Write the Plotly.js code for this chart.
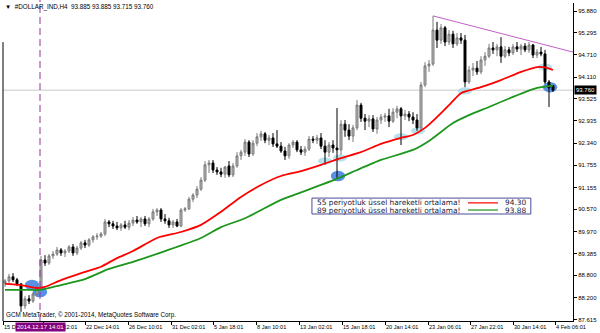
<!DOCTYPE html>
<html><head><meta charset="utf-8">
<script src="https://cdn.plot.ly/plotly-3.0.1.min.js"></script>
<style>html,body{margin:0;padding:0;background:#fff}#c{width:600px;height:333px}</style>
</head><body><div id="c"></div>
<script>
const symbol = "#DOLLAR_IND,H4";
const copyright = "GCM MetaTrader, \u00a9 2001-2014, MetaQuotes Software Corp.";

const openP = [
88.59,88.65,88.76,88.68,88.57,87.98,88.17,88.11,88.30,88.46,
89.21,89.13,89.32,89.37,89.48,89.40,89.45,89.56,89.40,89.53,
89.67,89.61,89.75,89.83,89.85,89.91,90.23,90.18,90.12,90.07,
90.15,90.09,90.20,90.28,90.23,90.31,90.18,90.31,90.50,90.55,
90.31,90.26,90.15,90.23,90.12,90.55,90.58,90.84,90.95,91.11,
91.35,91.76,91.81,91.62,91.57,91.51,91.73,91.49,91.73,92.00,
92.10,92.37,92.05,92.34,92.51,92.59,92.42,92.48,92.32,92.26,
92.13,92.00,92.29,92.37,92.16,92.10,92.18,92.45,92.42,92.48,
92.26,92.10,92.29,92.21,92.16,92.85,92.69,92.53,92.75,93.36,
93.01,92.93,92.99,92.72,92.96,93.04,93.07,92.93,93.17,93.26,
93.07,93.12,93.04,92.96,92.75,93.90,94.41,94.46,95.37,95.10,
95.43,95.05,95.26,95.00,95.16,95.10,93.98,94.30,94.35,94.25,
94.57,94.67,94.89,94.84,94.92,94.67,94.84,94.76,94.92,94.86,
94.94,94.84,94.97,94.70,94.78,94.73,93.98,93.885];
const highP = [
88.70,88.84,88.86,88.73,88.59,88.25,88.27,88.35,88.54,89.32,
89.34,89.37,89.45,89.56,89.53,89.50,89.61,89.64,89.59,89.72,
89.75,89.80,89.88,89.93,89.96,90.31,90.28,90.26,90.23,90.20,
90.26,90.28,90.36,90.39,90.36,90.39,90.36,90.58,90.60,90.60,
90.44,90.34,90.28,90.31,90.60,90.63,90.90,91.00,91.19,91.43,
91.86,91.89,91.89,91.70,91.68,91.73,91.86,91.81,92.10,92.16,
92.45,92.42,92.42,92.61,92.67,92.64,92.56,92.61,92.69,92.37,
92.24,92.34,92.42,92.42,92.26,92.26,92.53,92.53,92.56,92.61,
92.42,92.37,92.42,93.28,92.96,92.96,92.85,92.83,93.50,93.42,
93.12,93.09,93.09,93.04,93.12,93.15,93.26,93.28,93.34,93.31,
93.23,93.20,93.17,93.12,93.98,94.51,94.57,95.75,95.59,95.53,
95.48,95.37,95.35,95.29,95.29,95.24,94.41,94.49,94.54,94.67,
94.78,95.00,95.05,95.00,95.18,94.94,94.92,95.00,95.05,95.00,
95.02,95.05,95.00,94.86,94.92,94.84,94.03,93.885];
const lowP = [
88.49,88.59,88.62,88.51,87.82,87.90,88.03,88.06,88.22,88.41,
89.05,89.08,89.24,89.32,89.32,89.29,89.40,89.32,89.34,89.48,
89.53,89.56,89.67,89.75,89.80,89.85,90.09,90.04,90.01,89.99,
90.04,90.01,90.12,90.18,90.09,90.12,90.09,90.26,90.39,90.23,
90.18,90.07,90.07,90.09,90.09,90.50,90.55,90.76,90.87,91.06,
91.30,91.54,91.54,91.49,91.43,91.41,91.43,91.43,91.68,91.89,
92.00,91.97,92.00,92.26,92.40,92.34,92.29,92.24,92.21,92.08,
91.89,91.92,92.21,92.10,92.02,92.00,92.13,92.34,92.32,92.18,
91.76,91.97,92.08,91.41,92.02,92.51,92.42,92.37,92.69,92.91,
92.69,92.77,92.64,92.59,92.85,92.91,92.77,92.88,93.01,92.29,
92.96,92.93,92.85,92.67,92.67,93.84,94.25,94.41,94.89,95.00,
94.94,94.97,94.89,94.94,95.00,93.84,93.93,94.14,94.17,94.19,
94.41,94.62,94.73,94.67,94.49,94.62,94.67,94.70,94.78,94.70,
94.78,94.76,94.62,94.62,94.67,93.93,93.31,93.715];
const closeP = [
88.65,88.76,88.68,88.57,87.98,88.17,88.11,88.30,88.46,89.21,
89.13,89.32,89.37,89.48,89.40,89.45,89.56,89.40,89.53,89.67,
89.61,89.75,89.83,89.85,89.91,90.23,90.18,90.12,90.07,90.15,
90.09,90.20,90.28,90.23,90.31,90.18,90.31,90.50,90.55,90.31,
90.26,90.15,90.23,90.12,90.55,90.58,90.84,90.95,91.11,91.35,
91.76,91.81,91.62,91.57,91.51,91.70,91.49,91.73,92.00,92.10,
92.37,92.05,92.34,92.51,92.59,92.42,92.48,92.32,92.26,92.13,
92.00,92.29,92.37,92.16,92.10,92.18,92.45,92.42,92.48,92.26,
92.10,92.29,92.21,92.16,92.85,92.69,92.53,92.75,93.36,93.01,
92.93,92.99,92.72,92.96,93.04,93.07,92.93,93.17,93.26,93.07,
93.12,93.04,92.96,92.75,93.90,94.41,94.46,95.37,95.10,95.43,
95.05,95.26,95.00,95.16,95.10,93.98,94.30,94.35,94.25,94.57,
94.67,94.89,94.84,94.92,94.67,94.84,94.76,94.92,94.86,94.94,
94.84,94.97,94.70,94.78,94.73,93.98,93.82,93.76];

const ema55Idx = [0,4,8,10,14,20,24,28,32,38,44,49,54,59,64,69,74,79,84,89,94,99,102,105,108,111,114,119,124,129,133,135,137];
const ema55Val = [88.57,88.54,88.46,88.49,88.67,88.89,89.03,89.26,89.45,89.80,89.96,90.15,90.50,90.90,91.22,91.46,91.59,91.76,91.94,92.10,92.32,92.48,92.56,92.75,93.04,93.36,93.68,93.84,94.03,94.25,94.38,94.37,94.30];
const ema89Idx = [0,5,9,14,20,26,32,40,49,54,60,69,73,77,84,88,94,102,106,112,116,121,127,133,136,137];
const ema89Val = [88.41,88.41,88.41,88.54,88.70,88.97,89.16,89.45,89.80,90.09,90.33,90.82,90.98,91.14,91.43,91.62,91.89,92.16,92.40,92.88,93.09,93.31,93.58,93.82,93.87,93.88];
const ema55Name = "55 periyotluk \u00fcssel hareketli ortalama!";
const ema89Name = "89 periyotluk \u00fcssel hareketli ortalama!";

const trendIdx = [107, 142];
const trendVal = [95.75, 94.78];

const cyanIdx = [80, 83.75, 99, 103.25, 115, 135];
const cyanVal = [91.86, 91.94, 92.51, 92.67, 93.74, 94.38];
const blueIdx = [6.75, 8.75, 83.25, 136.25];
const blueVal = [88.54, 88.35, 91.46, 93.84];

const eventBar = 8.75;
const eventLabel = "2014.12.17 14:01";

const xTickIdx = [-0.5, 9.5, 20, 30.75, 41.5, 52, 62.75, 73.5, 84.25, 95, 105.75, 116.25, 127, 137.5];
const xTickText = ["15 Dec 2014","17 Dec 22:01","22 Dec 14:01","26 Dec 10:01","31 Dec 02:01","5 Jan 18:01","8 Jan 10:01","13 Jan 02:01","15 Jan 18:01","20 Jan 14:01","23 Jan 06:01","27 Jan 22:01","30 Jan 14:01","4 Feb 06:01"];
const yTickVals = [95.880,95.295,94.710,94.110,93.525,92.935,92.340,91.755,91.155,90.570,89.970,89.385,88.800,88.200,87.615];

const FONT = "Liberation Sans, Arial, sans-serif";
const LFONT = "DejaVu Sans, Verdana, sans-serif";
const xs = closeP.map((_, i) => i);
const last = closeP.length - 1;
const nb = "\u00a0";

const traces = [
  {type:'scatter', mode:'lines', x:ema89Idx, y:ema89Val, line:{color:'#1c961c', width:1.8, shape:'spline', smoothing:0.6}, hoverinfo:'skip'},
  {type:'scatter', mode:'lines', x:ema55Idx, y:ema55Val, line:{color:'#ff0000', width:1.8, shape:'spline', smoothing:0.6}, hoverinfo:'skip'},
  {type:'candlestick', x:xs, open:openP, high:highP, low:lowP, close:closeP,
   increasing:{line:{color:'#7a7a7a', width:1}, fillcolor:'#b8b8b8'},
   decreasing:{line:{color:'#000000', width:1}, fillcolor:'#000000'},
   whiskerwidth:0, hoverinfo:'skip'},
  {type:'scatter', mode:'lines', x:trendIdx, y:trendVal, line:{color:'#c060c8', width:1}, hoverinfo:'skip', cliponaxis:true}
];

const shapes = [];
cyanIdx.forEach((v, k) => shapes.push({type:'circle', xref:'x', yref:'y', x0:v-1.8, x1:v+1.8, y0:cyanVal[k]-0.095, y1:cyanVal[k]+0.095, fillcolor:'rgba(160,215,230,0.75)', line:{width:0}, layer:'below'}));
blueIdx.forEach((v, k) => shapes.push({type:'circle', xref:'x', yref:'y', x0:v-1.8, x1:v+1.8, y0:blueVal[k]-0.14, y1:blueVal[k]+0.14, fillcolor:'rgba(60,125,225,0.85)', line:{width:0}, layer:'below'}));
shapes.push({type:'line', xref:'paper', yref:'y', x0:0, x1:1, y0:closeP[last], y1:closeP[last], line:{color:'#c8c8c8', width:1}, layer:'below'});
shapes.push({type:'line', xref:'x', yref:'paper', x0:eventBar, x1:eventBar, y0:0, y1:1.01, line:{color:'#93339b', width:1, dash:'7px,4px'}});
shapes.push({type:'line', xref:'paper', yref:'paper', x0:0, x1:0, y0:0, y1:0.877, line:{color:'#000', width:1}});
// legend box
shapes.push({type:'rect', xref:'paper', yref:'paper', x0:0.542, x1:0.926, y0:0.3365, y1:0.3865, line:{color:'#4b4b9b', width:1}, fillcolor:'#ffffff'});
shapes.push({type:'line', xref:'paper', yref:'paper', x0:0.8158, x1:0.8684, y0:0.3715, y1:0.3715, line:{color:'#ff0000', width:1.2}});
shapes.push({type:'line', xref:'paper', yref:'paper', x0:0.8158, x1:0.8684, y0:0.349, y1:0.349, line:{color:'#1c961c', width:1.2}});

const hdr = "\u25BC" + nb + nb + symbol + nb + nb + [openP[last], highP[last], lowP[last], closeP[last]].map(v => v.toFixed(3)).join(nb);
const annotations = [
  {xref:'paper', yref:'paper', x:0.0, y:0.987, xanchor:'left', yanchor:'middle', text:hdr, showarrow:false, font:{family:FONT, size:6.3, color:'#000'}},
  {xref:'paper', yref:'paper', x:0.002, y:0.019, xanchor:'left', yanchor:'middle', text:copyright, showarrow:false, font:{family:FONT, size:6.3, color:'#000'}},
  {xref:'paper', yref:'y', x:1, y:closeP[last], xanchor:'left', yanchor:'middle', xshift:1, text:closeP[last].toFixed(3), showarrow:false, bgcolor:'#000', borderpad:1, font:{family:FONT, size:6, color:'#fff'}},
  {xref:'x', yref:'paper', x:eventBar, y:-0.019, xanchor:'center', yanchor:'middle', text:eventLabel, showarrow:false, bgcolor:'#800080', borderpad:1, font:{family:FONT, size:6, color:'#fff'}},
  {xref:'paper', yref:'paper', x:0.5474, y:0.3715, xanchor:'left', yanchor:'middle', text:ema55Name, showarrow:false, font:{family:LFONT, size:7.4, color:'#1a1a3a'}},
  {xref:'paper', yref:'paper', x:0.5474, y:0.349, xanchor:'left', yanchor:'middle', text:ema89Name, showarrow:false, font:{family:LFONT, size:7.4, color:'#1a1a3a'}},
  {xref:'paper', yref:'paper', x:0.877, y:0.3715, xanchor:'left', yanchor:'middle', text:ema55Val[ema55Val.length-1].toFixed(2), showarrow:false, font:{family:LFONT, size:7.4, color:'#1a1a3a'}},
  {xref:'paper', yref:'paper', x:0.877, y:0.349, xanchor:'left', yanchor:'middle', text:ema89Val[ema89Val.length-1].toFixed(2), showarrow:false, font:{family:LFONT, size:7.4, color:'#1a1a3a'}}
];

const layout = {
  width:600, height:333,
  margin:{l:3, r:27, t:3, b:12, pad:0},
  paper_bgcolor:'#fff', plot_bgcolor:'#fff',
  showlegend:false, hovermode:false,
  font:{family:FONT, size:6, color:'#000'},
  xaxis:{range:[-0.5,142], tickmode:'array', tickvals:xTickIdx, ticktext:xTickText, tickangle:0,
         ticks:'outside', ticklen:3, tickcolor:'#000', tickwidth:1, ticklabelposition:'outside right',
         ticklabeloverflow:'allow', tickfont:{family:FONT, size:5.6, color:'#000'},
         showline:true, linecolor:'#000', linewidth:1, showgrid:false, zeroline:false,
         rangeslider:{visible:false}, automargin:false, fixedrange:true},
  yaxis:{range:[87.576,96.095], side:'right', tickmode:'array', tickvals:yTickVals,
         ticktext:yTickVals.map(v => v.toFixed(3)),
         ticks:'outside', ticklen:3, tickcolor:'#000', tickwidth:1,
         tickfont:{family:FONT, size:6, color:'#000'},
         showline:true, linecolor:'#000', linewidth:1, showgrid:false, zeroline:false,
         automargin:false, fixedrange:true},
  shapes:shapes, annotations:annotations
};

Plotly.newPlot('c', traces, layout, {staticPlot:true, displayModeBar:false});
</script>
</body></html>
